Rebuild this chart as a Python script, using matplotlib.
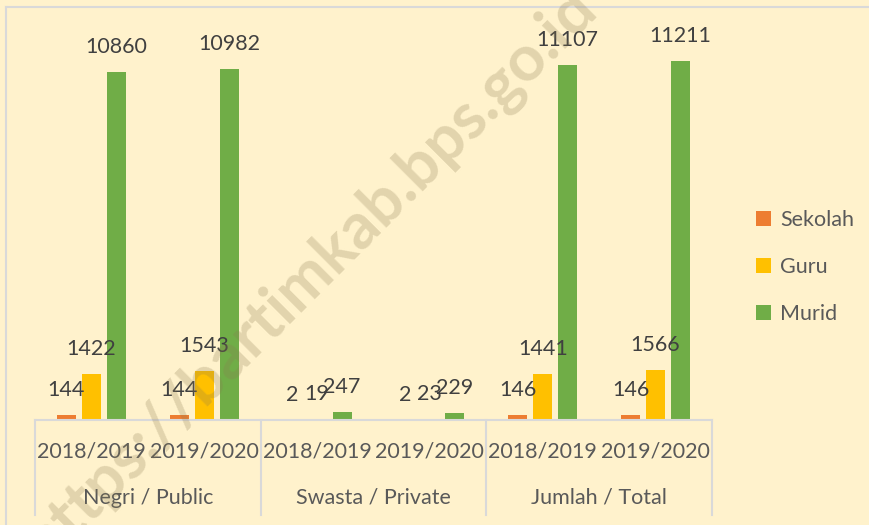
import numpy as np
import matplotlib.pyplot as plt
import matplotlib.transforms as mtransforms

# data
years = ['2018/2019', '2019/2020', '2018/2019', '2019/2020', '2018/2019', '2019/2020']
groups = ['Negri / Public', 'Swasta / Private', 'Jumlah / Total']
sekolah = [144, 144, 2, 2, 146, 146]
guru = [1422, 1543, 19, 23, 1441, 1566]
murid = [10860, 10982, 247, 229, 11107, 11211]

series = [('Sekolah', sekolah, '#ED7D31'),
          ('Guru', guru, '#FFC000'),
          ('Murid', murid, '#70AD47')]

plt.rcParams['font.family'] = ['Lato', 'DejaVu Sans']
bg = '#FFF2CC'
fs = 15.5

fig = plt.figure(figsize=(8.7, 5.25), dpi=100, facecolor=bg)
ax = fig.add_axes([35/870, 0.2, (712-35)/870, 400/525])
ax.set_facecolor('none')

x = np.arange(len(years))
width = 0.168
offsets = [-0.2216, 0, 0.2216]

for (name, vals, col), off in zip(series, offsets):
    bars = ax.bar(x + off, vals, width, color=col, label=name, zorder=2)
    for b, v in zip(bars, vals):
        ax.annotate(str(v), (b.get_x() + b.get_width()/2, v),
                    xytext=(0, 18), textcoords='offset points',
                    ha='center', va='center', fontsize=fs,
                    color='#404040', zorder=3)

ax.set_xlim(-0.5, 5.5)
ax.set_ylim(0, 12500)
ax.set_yticks([])
ax.set_xticks([])
for sp in ax.spines.values():
    sp.set_visible(False)

# category axis
trans = mtransforms.blended_transform_factory(ax.transData, ax.transAxes)
ax.plot([-0.5, 5.5], [0, 0], color='#D9D9D9', lw=1.5, transform=trans, clip_on=False)
for sx in [-0.5, 1.5, 3.5, 5.5]:
    ax.plot([sx, sx], [0, -0.2375], color='#D9D9D9', lw=1.5,
            transform=trans, clip_on=False)
for xi, yr in zip(x, years):
    ax.text(xi, -0.08, yr, transform=trans, ha='center', va='center',
            fontsize=fs, color='#595959')
for gi, g in enumerate(groups):
    ax.text(gi*2 + 0.5, -0.195, g, transform=trans, ha='center', va='center',
            fontsize=fs, color='#595959')

leg = fig.legend(loc='center left', bbox_to_anchor=(737/870, 1 - 267/525),
                 frameon=False, fontsize=fs, labelcolor='#595959',
                 handlelength=0.7, handleheight=0.7, handletextpad=0.4,
                 labelspacing=1.25)

# chart border
fig.add_artist(plt.Line2D([6/870, 1], [1 - 7/525, 1 - 7/525], color='#D9D9D9', lw=1.5))
fig.add_artist(plt.Line2D([6/870, 6/870], [0, 1 - 7/525], color='#D9D9D9', lw=1.5))

# watermark
fig.text(310/870, 1 - 275/525, 'https://bartimkab.bps.go.id', rotation=45,
         ha='center', va='center', fontsize=46, fontweight='bold',
         color='#8B7A50', alpha=0.25, zorder=10)

fig.savefig('out.png', dpi=100, facecolor=bg)
